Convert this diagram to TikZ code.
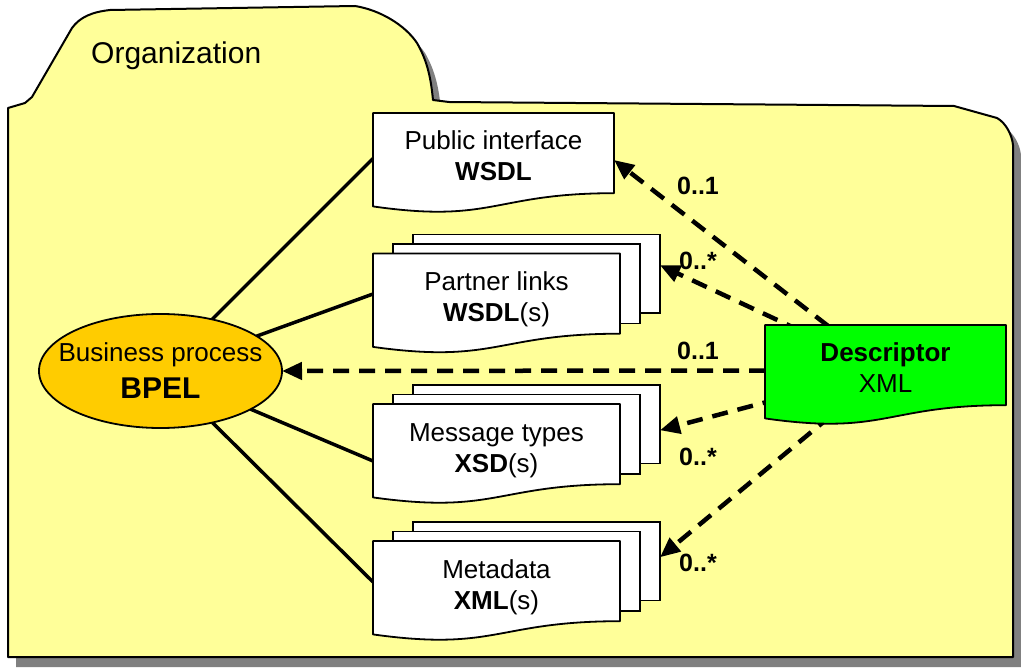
\documentclass[tikz,border=0pt]{standalone}
\usepackage{fontspec}
\setmainfont{Liberation Sans}
\usetikzlibrary{shapes.geometric,arrows.meta}

\pgfdeclarelayer{background}
\pgfdeclarelayer{links}
\pgfsetlayers{background,links,main}

\definecolor{folderfill}{HTML}{FFFF99}
\definecolor{shadowgray}{HTML}{808080}
\definecolor{processfill}{HTML}{FFCC00}
\definecolor{descfill}{HTML}{00FF00}

% folder outline (tab on the upper left), in pixel-like units
\newcommand\folder[1]{%
  \path[#1] (8,657) -- (8,108) -- (25,103) -- (32,97) -- (72,28)
    .. controls (80,17) and (92,12) .. (110,10) -- (355,6)
    .. controls (380,10) and (405,25) .. (417,43)
    .. controls (428,62) and (431,80) .. (433,100)
    -- (449,102) -- (954,106) -- (997,118)
    .. controls (1006,123) and (1012,135) .. (1013,145)
    -- (1013,657) -- cycle;}

% document sheet with a wavy lower edge: style, x, y (top left), width, height
\newcommand\docshape[5]{%
  \path[#1] (#2,#3) -- ({#2+#4},#3) -- ({#2+#4},{#3+0.802*#5})
    .. controls ({#2+0.5*#4},{#3+0.802*#5}) and ({#2+0.5*#4},{#3+1.107*#5})
    .. (#2,{#3+0.934*#5}) -- cycle;}

% stack of three sheets: name, x, y of the front sheet
\newcommand\pagestack[3]{%
  \node[page] (#1back) at ({#2+40},{#3-19}) {};
  \node[page, minimum height=79.5pt] (#1mid) at ({#2+20},{#3-9.5}) {};
  \docshape{docpage}{#2}{#3}{247}{100}}

\newcommand\doctop{\rule{0pt}{20pt}}
\newcommand\docbot{\rule[-6pt]{0pt}{6pt}}

\tikzset{
  docpage/.style={draw, fill=white, line width=1.8pt, line join=round},
  page/.style={rectangle, draw, fill=white, line width=1.8pt, anchor=north west,
    minimum width=247pt, minimum height=78.5pt, inner sep=0pt, outer sep=0pt},
  doctext/.style={align=center, inner sep=0pt, outer sep=0pt,
    font=\fontsize{26}{31}\selectfont},
  link/.style={line width=3.5pt},
  dep/.style={line width=4.5pt, dash pattern=on 16pt off 10pt,
    -{Triangle[length=20pt,width=17pt]}},
  mult/.style={font=\fontsize{25}{30}\selectfont\bfseries, inner sep=0pt},
}

\begin{document}
\begin{tikzpicture}[x=1pt, y=-1pt]
\useasboundingbox (0,0) rectangle (1021,668);

\begin{pgfonlayer}{background}
  \folder{fill=shadowgray, shift={(8,10)}}
  \folder{fill=folderfill, draw=black, line width=2pt, line join=round}
\end{pgfonlayer}

\node[anchor=base west, inner sep=0pt, font=\fontsize{30}{36}\selectfont]
  (org) at (91,64) {Organization};

% business process
\node[ellipse, draw, fill=processfill, line width=1.8pt, minimum width=243pt,
  minimum height=114pt, inner sep=0pt, outer sep=0pt] (bpel) at (160.5,371) {};
\node[align=center, inner sep=0pt, font=\fontsize{26}{37}\selectfont]
  (bpeltext) at (bpel.center)
  {Business process\\{\fontsize{30}{37}\selectfont\bfseries BPEL}};

% public interface
\docshape{docpage}{373}{113}{241}{100}
\node[doctext, minimum width=241pt] (pub) at (493.5,158.5)
  {\doctop Public interface\\\textbf{WSDL}\docbot};

% partner links
\pagestack{partner}{373}{253.5}
\node[doctext, minimum width=247pt] (partner) at (496.5,299)
  {\doctop Partner links\\\textbf{WSDL}(s)\docbot};

% message types
\pagestack{msg}{373}{404}
\node[doctext, minimum width=247pt] (msg) at (496.5,449.5)
  {\doctop Message types\\\textbf{XSD}(s)\docbot};

% metadata
\pagestack{meta}{373}{541}
\node[doctext, minimum width=247pt] (meta) at (496.5,586.5)
  {\doctop Metadata\\\textbf{XML}(s)\docbot};

% descriptor
\docshape{docpage, fill=descfill}{765}{325}{241}{100}
\node[doctext, minimum width=241pt] (desc) at (885.5,370.5)
  {\doctop\textbf{Descriptor}\\XML\docbot};

% connectors
\begin{pgfonlayer}{links}
  \draw[link] (bpel) -- (pub.west);
  \draw[link] (bpel) -- ([yshift=5pt]partner.west);
  \draw[link] (bpel) -- ([yshift=-11.5pt]msg.west);
  \draw[link] (bpel) -- ([yshift=4.5pt]meta.west);

  \draw[dep] (desc) -- ([yshift=-1.5pt]pub.east);
  \draw[dep] (desc) -- ([yshift=8.5pt]partnerback.east);
  \draw[dep] (desc.west) -- (bpel.east);
  \draw[dep] (desc) -- ([yshift=-6pt]msgback.east);
  \draw[dep] (desc) -- ([yshift=4pt]metaback.east);
\end{pgfonlayer}

% multiplicities
\node[mult] (m1) at (698,186) {0..1};
\node[mult] (m2) at (698,261) {0..*};
\node[mult] (m3) at (698,351) {0..1};
\node[mult] (m4) at (698,457) {0..*};
\node[mult] (m5) at (698,563) {0..*};

\end{tikzpicture}
\end{document}
